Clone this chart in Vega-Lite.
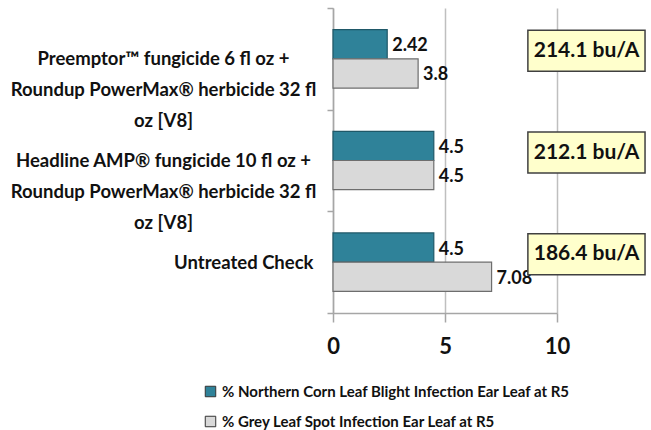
{
  "$schema": "https://vega.github.io/schema/vega-lite/v6.json",
  "width": 224,
  "height": 305,
  "autosize": "none",
  "padding": {"left": 333, "top": 8, "right": 94, "bottom": 117},
  "background": "white",
  "config": {
    "view": {"stroke": null},
    "font": "Lato",
    "axisY": {
      "title": null,
      "domainColor": "#A6A6A6",
      "domainWidth": 1.5,
      "labelExpr": "split(datum.label, '|')",
      "labelFontSize": 18.5,
      "labelLineHeight": 31,
      "labelColor": "#111111",
      "labelFontWeight": "bold",
      "labelBaseline": "middle",
      "tickColor": "#A6A6A6",
      "tickWidth": 1.5,
      "tickSize": 6,
      "tickBand": "extent",
      "labelLimit": 400,
      "labelAlign": {"condition": {"test": "datum.value == 'Untreated Check'", "value": "right"}, "value": "center"},
      "labelPadding": {"condition": {"test": "datum.value == 'Untreated Check'", "value": 14}, "value": 164}
    },
    "axisX": {
      "title": null,
      "grid": true,
      "gridColor": "#BFBFBF",
      "gridWidth": 1.5,
      "domainColor": "#A6A6A6",
      "domainWidth": 1.5,
      "tickColor": "#A6A6A6",
      "tickWidth": 1.5,
      "tickSize": 9,
      "labelFontSize": 22,
      "labelFontWeight": "bold",
      "labelColor": "#111111",
      "labelPadding": 14,
      "labelFlush": false
    }
  },
  "datasets": {
    "infection": [
      {"Treatment": "Preemptor™ fungicide 6 fl oz +|Roundup PowerMax® herbicide 32 fl|oz [V8]", "Series": "% Northern Corn Leaf Blight Infection Ear Leaf at R5", "Value": 2.42},
      {"Treatment": "Preemptor™ fungicide 6 fl oz +|Roundup PowerMax® herbicide 32 fl|oz [V8]", "Series": "% Grey Leaf Spot Infection Ear Leaf at R5", "Value": 3.8},
      {"Treatment": "Headline AMP® fungicide 10 fl oz +|Roundup PowerMax® herbicide 32 fl|oz [V8]", "Series": "% Northern Corn Leaf Blight Infection Ear Leaf at R5", "Value": 4.5},
      {"Treatment": "Headline AMP® fungicide 10 fl oz +|Roundup PowerMax® herbicide 32 fl|oz [V8]", "Series": "% Grey Leaf Spot Infection Ear Leaf at R5", "Value": 4.5},
      {"Treatment": "Untreated Check", "Series": "% Northern Corn Leaf Blight Infection Ear Leaf at R5", "Value": 4.5},
      {"Treatment": "Untreated Check", "Series": "% Grey Leaf Spot Infection Ear Leaf at R5", "Value": 7.08}
    ],
    "yields": [
      {"Treatment": "Preemptor™ fungicide 6 fl oz +|Roundup PowerMax® herbicide 32 fl|oz [V8]", "Yield": "214.1 bu/A"},
      {"Treatment": "Headline AMP® fungicide 10 fl oz +|Roundup PowerMax® herbicide 32 fl|oz [V8]", "Yield": "212.1 bu/A"},
      {"Treatment": "Untreated Check", "Yield": "186.4 bu/A"}
    ]
  },
  "layer": [
    {
      "data": {"name": "infection"},
      "mark": {"type": "bar", "strokeWidth": 1.2},
      "encoding": {
        "y": {
          "field": "Treatment", "type": "nominal",
          "sort": ["Preemptor™ fungicide 6 fl oz +|Roundup PowerMax® herbicide 32 fl|oz [V8]", "Headline AMP® fungicide 10 fl oz +|Roundup PowerMax® herbicide 32 fl|oz [V8]", "Untreated Check"],
          "scale": {"paddingInner": 0, "paddingOuter": 0}
        },
        "yOffset": {
          "field": "Series", "type": "nominal",
          "sort": ["% Northern Corn Leaf Blight Infection Ear Leaf at R5", "% Grey Leaf Spot Infection Ear Leaf at R5"],
          "scale": {"paddingInner": 0, "paddingOuter": 0.74}
        },
        "x": {"field": "Value", "type": "quantitative", "scale": {"domain": [0, 10], "nice": false}, "axis": {"values": [0, 5, 10]}},
        "color": {
          "field": "Series", "type": "nominal",
          "sort": ["% Northern Corn Leaf Blight Infection Ear Leaf at R5", "% Grey Leaf Spot Infection Ear Leaf at R5"],
          "scale": {"range": ["#2F8299", "#D9D9D9"]},
          "legend": {
            "orient": "none", "legendX": -130, "legendY": 376, "direction": "vertical",
            "title": null, "labelFontSize": 15, "labelFontWeight": "bold", "labelColor": "#111111",
            "symbolType": "square", "symbolSize": 110, "symbolStrokeColor": "#333333", "symbolStrokeWidth": 1,
            "rowPadding": 14, "labelOffset": 4, "labelLimit": 500
          }
        },
        "stroke": {
          "field": "Series", "type": "nominal",
          "sort": ["% Northern Corn Leaf Blight Infection Ear Leaf at R5", "% Grey Leaf Spot Infection Ear Leaf at R5"],
          "scale": {"range": ["#1F5868", "#6E6E6E"]},
          "legend": null
        }
      }
    },
    {
      "data": {"name": "infection"},
      "mark": {"type": "text", "align": "left", "baseline": "middle", "dx": 5, "dy": 2, "fontSize": 18, "fontWeight": "bold", "color": "#111111"},
      "encoding": {
        "y": {"field": "Treatment", "type": "nominal", "sort": ["Preemptor™ fungicide 6 fl oz +|Roundup PowerMax® herbicide 32 fl|oz [V8]", "Headline AMP® fungicide 10 fl oz +|Roundup PowerMax® herbicide 32 fl|oz [V8]", "Untreated Check"]},
        "yOffset": {"field": "Series", "type": "nominal", "sort": ["% Northern Corn Leaf Blight Infection Ear Leaf at R5", "% Grey Leaf Spot Infection Ear Leaf at R5"]},
        "x": {"field": "Value", "type": "quantitative"},
        "text": {"field": "Value", "type": "quantitative"}
      }
    },
    {
      "data": {"name": "yields"},
      "mark": {"type": "bar", "height": 41, "yOffset": -8, "fill": "#FFFFCC", "stroke": "#404040", "strokeWidth": 1.5, "clip": false},
      "encoding": {
        "y": {"field": "Treatment", "type": "nominal", "sort": ["Preemptor™ fungicide 6 fl oz +|Roundup PowerMax® herbicide 32 fl|oz [V8]", "Headline AMP® fungicide 10 fl oz +|Roundup PowerMax® herbicide 32 fl|oz [V8]", "Untreated Check"]},
        "x": {"datum": 8.7},
        "x2": {"datum": 13.93}
      }
    },
    {
      "data": {"name": "yields"},
      "mark": {"type": "text", "yOffset": -8, "fontSize": 21, "fontWeight": "bold", "color": "#111111", "align": "center", "baseline": "middle"},
      "encoding": {
        "y": {"field": "Treatment", "type": "nominal", "sort": ["Preemptor™ fungicide 6 fl oz +|Roundup PowerMax® herbicide 32 fl|oz [V8]", "Headline AMP® fungicide 10 fl oz +|Roundup PowerMax® herbicide 32 fl|oz [V8]", "Untreated Check"]},
        "x": {"datum": 11.32},
        "text": {"field": "Yield", "type": "nominal"}
      }
    }
  ]
}
